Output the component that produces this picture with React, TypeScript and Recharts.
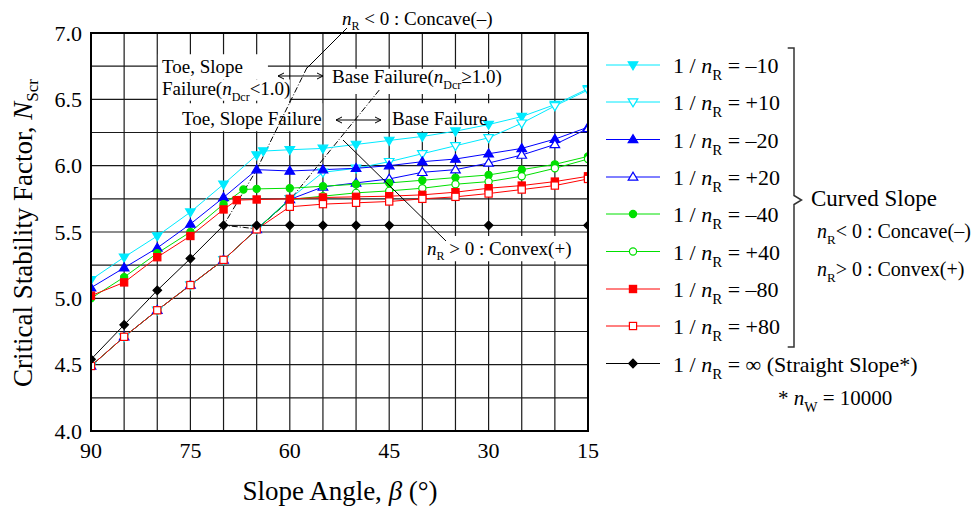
import React from 'react';
import { LineChart, Line, XAxis, YAxis, CartesianGrid, ReferenceArea } from 'recharts';

// slope angles (deg) used by most series
const anglesStd = [90, 85, 80, 75, 70, 65, 60, 55, 50, 45, 40, 35, 30, 25, 20, 15];
const anglesNeg10 = [90, 85, 80, 75, 70, 65, 64, 60, 55, 50, 45, 40, 35, 30, 25, 20, 15];
const anglesNeg40 = [90, 85, 80, 75, 70, 67, 65, 60, 55, 50, 45, 40, 35, 30, 25, 20, 15];
const anglesNeg80 = [90, 85, 80, 75, 70, 68, 65, 60, 55, 50, 45, 40, 35, 30, 25, 20, 15];
const anglesStraight = [90, 85, 80, 75, 70, 65, 60, 55, 50, 45, 30, 15];

// N_Scr values
const nNeg10 = [5.14, 5.31, 5.47, 5.65, 5.86, 6.08, 6.11, 6.12, 6.13, 6.16, 6.19, 6.22, 6.26, 6.31, 6.37, 6.46, 6.58];
const nPos10 = [4.49, 4.71, 4.91, 5.1, 5.29, 5.52, 5.75, 5.95, 5.98, 6.03, 6.09, 6.15, 6.21, 6.32, 6.45, 6.57];
const nNeg20 = [5.08, 5.23, 5.38, 5.56, 5.76, 5.97, 5.96, 5.97, 5.98, 6.0, 6.03, 6.05, 6.09, 6.13, 6.2, 6.29];
const nPos20 = [4.49, 4.71, 4.91, 5.1, 5.29, 5.52, 5.745, 5.84, 5.87, 5.9, 5.95, 5.97, 6.02, 6.08, 6.16, 6.28];
const nNeg40 = [5.0, 5.16, 5.34, 5.5, 5.71, 5.82, 5.825, 5.83, 5.845, 5.86, 5.87, 5.89, 5.91, 5.93, 5.97, 6.01, 6.07];
const nPos40 = [4.49, 4.71, 4.91, 5.1, 5.29, 5.52, 5.745, 5.77, 5.795, 5.81, 5.83, 5.86, 5.88, 5.92, 5.98, 6.05];
const nNeg80 = [5.02, 5.12, 5.31, 5.47, 5.67, 5.74, 5.745, 5.75, 5.76, 5.765, 5.77, 5.78, 5.8, 5.83, 5.85, 5.88, 5.92];
const nPos80 = [4.49, 4.71, 4.91, 5.1, 5.29, 5.52, 5.69, 5.71, 5.72, 5.73, 5.75, 5.765, 5.79, 5.82, 5.85, 5.9];
const nStraight = [4.54, 4.8, 5.06, 5.3, 5.55, 5.55, 5.55, 5.55, 5.55, 5.55, 5.55, 5.55];

// failure-mode boundaries (dash-dot)
const concaveAngles = [57.4, 65, 70, 67, 65.3];
const concaveValues = [6.74, 5.97, 5.55, 5.535, 5.525];
const convexAngles = [46.5, 60, 65];
const convexValues = [6.57, 5.74, 5.52];

const yTicks = [4, 4.25, 4.5, 4.75, 5, 5.25, 5.5, 5.75, 6, 6.25, 6.5, 6.75, 7];
const xTicks = [15, 20, 25, 30, 35, 40, 45, 50, 55, 60, 65, 70, 75, 80, 85, 90];

const zip = (xs: number[], ys: number[]) => xs.map((x, i) => ({ x, y: ys[i] }));

const CYAN = '#00eaff';
const BLUE = '#0000ff';
const GREEN = '#00e000';
const RED = '#ff0000';

type Shape = 'down' | 'up' | 'circle' | 'square' | 'diamond';

const series = [
  { key: 'neg10', label: '= –10', color: CYAN, shape: 'down' as Shape, filled: true, data: zip(anglesNeg10, nNeg10) },
  { key: 'pos10', label: '= +10', color: CYAN, shape: 'down' as Shape, filled: false, data: zip(anglesStd, nPos10) },
  { key: 'neg20', label: '= –20', color: BLUE, shape: 'up' as Shape, filled: true, data: zip(anglesStd, nNeg20) },
  { key: 'pos20', label: '= +20', color: BLUE, shape: 'up' as Shape, filled: false, data: zip(anglesStd, nPos20) },
  { key: 'neg40', label: '= –40', color: GREEN, shape: 'circle' as Shape, filled: true, data: zip(anglesNeg40, nNeg40) },
  { key: 'pos40', label: '= +40', color: GREEN, shape: 'circle' as Shape, filled: false, data: zip(anglesStd, nPos40) },
  { key: 'neg80', label: '= –80', color: RED, shape: 'square' as Shape, filled: true, data: zip(anglesNeg80, nNeg80) },
  { key: 'pos80', label: '= +80', color: RED, shape: 'square' as Shape, filled: false, data: zip(anglesStd, nPos80) },
  { key: 'straight', label: '= ∞ (Straight Slope*)', color: '#000', shape: 'diamond' as Shape, filled: true, data: zip(anglesStraight, nStraight) },
];

// white label backgrounds, in data units [angle1, angle2, n1, n2]
const labelBoxes = [
  [79.9, 63.3, 6.84, 6.65],
  [79.9, 60.0, 6.65, 6.49],
  [54.1, 28.3, 6.73, 6.54],
  [76.9, 55.1, 6.47, 6.26],
  [44.9, 29.5, 6.47, 6.26],
  [39.9, 17.4, 5.47, 5.28],
];

const FONT = '"Liberation Serif", "Times New Roman", serif';

const Marker = ({ cx, cy, shape, color, filled }: { cx: number; cy: number; shape: Shape; color: string; filled: boolean }) => {
  if (cx == null || cy == null) return null;
  const fill = filled ? color : '#fff';
  const sw = 1.2;
  switch (shape) {
    case 'down':
      return <polygon points={`${cx - 4.8},${cy - 3.2} ${cx + 4.8},${cy - 3.2} ${cx},${cy + 4.8}`} fill={fill} stroke={color} strokeWidth={sw} />;
    case 'up':
      return <polygon points={`${cx - 4.8},${cy + 3.2} ${cx + 4.8},${cy + 3.2} ${cx},${cy - 4.8}`} fill={fill} stroke={color} strokeWidth={sw} />;
    case 'circle':
      return <circle cx={cx} cy={cy} r={3.6} fill={fill} stroke={color} strokeWidth={sw} />;
    case 'square':
      return <rect x={cx - 3.6} y={cy - 3.6} width={7.2} height={7.2} fill={fill} stroke={color} strokeWidth={sw} />;
    default:
      return <polygon points={`${cx - 4.3},${cy} ${cx},${cy - 4.3} ${cx + 4.3},${cy} ${cx},${cy + 4.3}`} fill={fill} stroke={color} strokeWidth={sw} />;
  }
};

// italic base letter with a subscript, followed by plain text
const Sub = ({ base, sub, fs, dy, after }: { base: string; sub: string; fs: number; dy: number; after: string }) => (
  <>
    <tspan fontStyle="italic">{base}</tspan>
    <tspan dy={dy} fontSize={fs}>{sub}</tspan>
    <tspan dy={-dy}>{after}</tspan>
  </>
);

const DoubleArrow = ({ x1, x2, y }: { x1: number; x2: number; y: number }) => (
  <g stroke="#000" strokeWidth={1} fill="none">
    <line x1={x1} y1={y} x2={x2} y2={y} />
    <polyline points={`${x1 + 6},${y - 3} ${x1},${y} ${x1 + 6},${y + 3}`} />
    <polyline points={`${x2 - 6},${y - 3} ${x2},${y} ${x2 - 6},${y + 3}`} />
  </g>
);

const XTick = (props: any) => {
  const v = props.payload?.value;
  if (v % 15 !== 0) return <g />;
  return (
    <text x={props.x} y={props.y + 27} textAnchor="middle" fontSize={22} fontFamily={FONT} fill="#000">
      {v}
    </text>
  );
};

const YTick = (props: any) => {
  const v = props.payload?.value;
  if (Math.round(v * 100) % 50 !== 0) return <g />;
  return (
    <text x={props.x} y={props.y + 7.5} textAnchor="end" fontSize={22} fontFamily={FONT} fill="#000">
      {v.toFixed(1)}
    </text>
  );
};

const legendRows = [65, 102, 139.5, 177, 214, 251.5, 289, 326, 363.5];

export default function App() {
  return (
    <div style={{ position: 'fixed', left: 0, top: 0, width: 979, height: 508, background: '#fff', fontFamily: FONT }}>
      <LineChart width={979} height={508} margin={{ top: 33, right: 391, bottom: 37, left: 31 }}>
        <CartesianGrid stroke="#1a1a1a" strokeWidth={1.2} />
        <XAxis
          type="number"
          dataKey="x"
          domain={[15, 90]}
          reversed
          ticks={xTicks}
          interval={0}
          tickLine={false}
          tickSize={0}
          tickMargin={0}
          axisLine={{ stroke: '#000' }}
          height={40}
          tick={<XTick />}
          allowDataOverflow
        />
        <YAxis
          type="number"
          domain={[4, 7]}
          ticks={yTicks}
          interval={0}
          tickLine={false}
          tickSize={0}
          tickMargin={9}
          axisLine={{ stroke: '#000' }}
          width={60}
          tick={<YTick />}
          allowDataOverflow
        />
        {labelBoxes.map((b, i) => (
          <ReferenceArea key={i} x1={b[0]} x2={b[1]} y1={b[2]} y2={b[3]} fill="#fff" fillOpacity={1} stroke="none" />
        ))}
        <Line
          data={zip(concaveAngles, concaveValues)}
          dataKey="y"
          type="linear"
          stroke="#000"
          strokeWidth={1}
          strokeDasharray="6 2 1 2"
          dot={false}
          activeDot={false}
          isAnimationActive={false}
        />
        <Line
          data={zip(convexAngles, convexValues)}
          dataKey="y"
          type="linear"
          stroke="#000"
          strokeWidth={1}
          strokeDasharray="6 2 1 2"
          dot={false}
          activeDot={false}
          isAnimationActive={false}
        />
        {series.map((s) => (
          <Line
            key={s.key}
            data={s.data}
            dataKey="y"
            type="linear"
            stroke={s.color}
            strokeWidth={1}
            isAnimationActive={false}
            dot={(p: any) => <Marker key={`${s.key}-${p.index}`} cx={p.cx} cy={p.cy} shape={s.shape} color={s.color} filled={s.filled} />}
            activeDot={false}
          />
        ))}
      </LineChart>

      <svg width={979} height={508} style={{ position: 'absolute', left: 0, top: 0, pointerEvents: 'none' }} fontFamily={FONT}>
        <rect x={91} y={33} width={497} height={398} fill="none" stroke="#000" strokeWidth={2} />

        {/* axis titles */}
        <text transform="translate(32,233) rotate(-90)" textAnchor="middle" fontSize={27} fill="#000">
          Critical Stability Factor, <Sub base="N" sub="Scr" fs={17} dy={6} after="" />
        </text>
        <text x={340} y={500} textAnchor="middle" fontSize={27} fill="#000">
          Slope Angle, <tspan fontStyle="italic">β</tspan> (°)
        </text>

        {/* annotations */}
        <text x={342} y={25} fontSize={19} fill="#000">
          <Sub base="n" sub="R" fs={12} dy={5} after=" < 0 : Concave(–)" />
        </text>
        <line x1={347} y1={28} x2={307} y2={68} stroke="#000" strokeWidth={1} />
        <text x={162} y={73} fontSize={19} fill="#000">Toe, Slope</text>
        <text x={162} y={95} fontSize={19} fill="#000">
          Failure(<Sub base="n" sub="Dcr" fs={12} dy={6} after="<1.0)" />
        </text>
        <text x={332} y={83} fontSize={19} fill="#000">
          Base Failure(<Sub base="n" sub="Dcr" fs={12} dy={6} after="≥1.0)" />
        </text>
        <text x={182} y={125} fontSize={19} fill="#000">Toe, Slope Failure</text>
        <text x={392} y={125} fontSize={19} fill="#000">Base Failure</text>
        <DoubleArrow x1={278} x2={323} y={76} />
        <DoubleArrow x1={336} x2={381} y={120} />
        <line x1={343} y1={140} x2={446} y2={241} stroke="#000" strokeWidth={1} />
        <text x={427} y={255} fontSize={19} fill="#000">
          <Sub base="n" sub="R" fs={12} dy={5} after=" > 0 : Convex(+)" />
        </text>

        {/* legend */}
        {series.map((s, i) => {
          const y = legendRows[i];
          return (
            <g key={s.key}>
              <line x1={606} y1={y} x2={660} y2={y} stroke={s.color} strokeWidth={1} />
              <Marker cx={633} cy={y} shape={s.shape} color={s.color} filled={s.filled} />
              <text x={673} y={y + 8} fontSize={22} fill="#000">
                1 / <Sub base="n" sub="R" fs={15} dy={7} after={` ${s.label}`} />
              </text>
            </g>
          );
        })}
        <path d="M787.7,48 H794 V195.5 L801.5,200 L794,204.5 V347 H787.7" fill="none" stroke="#333" strokeWidth={1.5} />
        <text x={811} y={206} fontSize={23} fill="#000">Curved Slope</text>
        <text x={817} y={238} fontSize={20} fill="#000">
          <Sub base="n" sub="R" fs={13} dy={6} after="< 0 : Concave(–)" />
        </text>
        <text x={817} y={276} fontSize={20} fill="#000">
          <Sub base="n" sub="R" fs={13} dy={6} after="> 0 : Convex(+)" />
        </text>
        <text x={778} y={405} fontSize={21} fill="#000">
          * <Sub base="n" sub="W" fs={14} dy={7} after=" = 10000" />
        </text>
      </svg>
    </div>
  );
}
